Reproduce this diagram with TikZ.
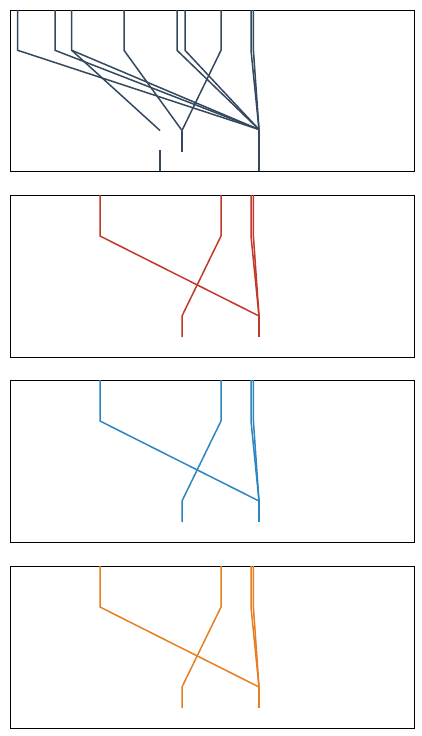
\documentclass[tikz,border=0pt]{standalone}
\begin{document}
\begin{tikzpicture}[x=1pt,y=-1pt,
  frame/.style={draw=black,line width=0.9pt},
  link/.style={line width=1.5pt,line join=miter}]
\useasboundingbox (0,0) rectangle (421,736);
\definecolor{cslate}{HTML}{34495E}
\definecolor{cred}{HTML}{C0392B}
\definecolor{cblue}{HTML}{2E86C1}
\definecolor{corange}{HTML}{E67E22}
% Panel 1
\draw[frame] (10,10) rectangle (414,171);
\coordinate (J) at (259,129.5);
\coordinate (K) at (182,130.5);
\coordinate (L) at (160,130.5);
\begin{scope}[cslate,link]
\draw (17.7,10) -- (17.7,50.3) -- (J);
\draw (55,10) -- (55,50.3) -- (J);
\draw (71.7,10) -- (71.7,50.3) -- (J);
\draw (71.7,50.3) -- (L);
\draw (124,10) -- (124,50.3) -- (K);
\draw (177,10) -- (177,50.3) -- (J);
\draw (185,10) -- (185,50.3) -- (J);
\draw (221,10) -- (221,50.3) -- (K);
\draw (251,10) -- (251,50.3) -- (J);
\draw (253.4,10) -- (253.4,50.3) -- (J);
\draw (K) -- (182,151.7);
\draw (160,150) -- (160,171);
\draw (J) -- (259,171);
\end{scope}
% Panels 2-4
\foreach \off/\col in {185/cred,370/cblue,556/corange}{
  \begin{scope}[yshift=-\off pt]
  \draw[frame] (10,10) rectangle (414,172);
  \coordinate (J2) at (259,131);
  \coordinate (K2) at (182,131);
  \begin{scope}[draw=\col,link]
  \draw (100,10) -- (100,51) -- (J2);
  \draw (221,10) -- (221,51) -- (K2) -- (182,152);
  \draw (251,10) -- (251,51) -- (J2);
  \draw (253.4,10) -- (253.4,51) -- (J2);
  \draw (J2) -- (259,152);
  \end{scope}
  \end{scope}
}
\end{tikzpicture}
\end{document}
